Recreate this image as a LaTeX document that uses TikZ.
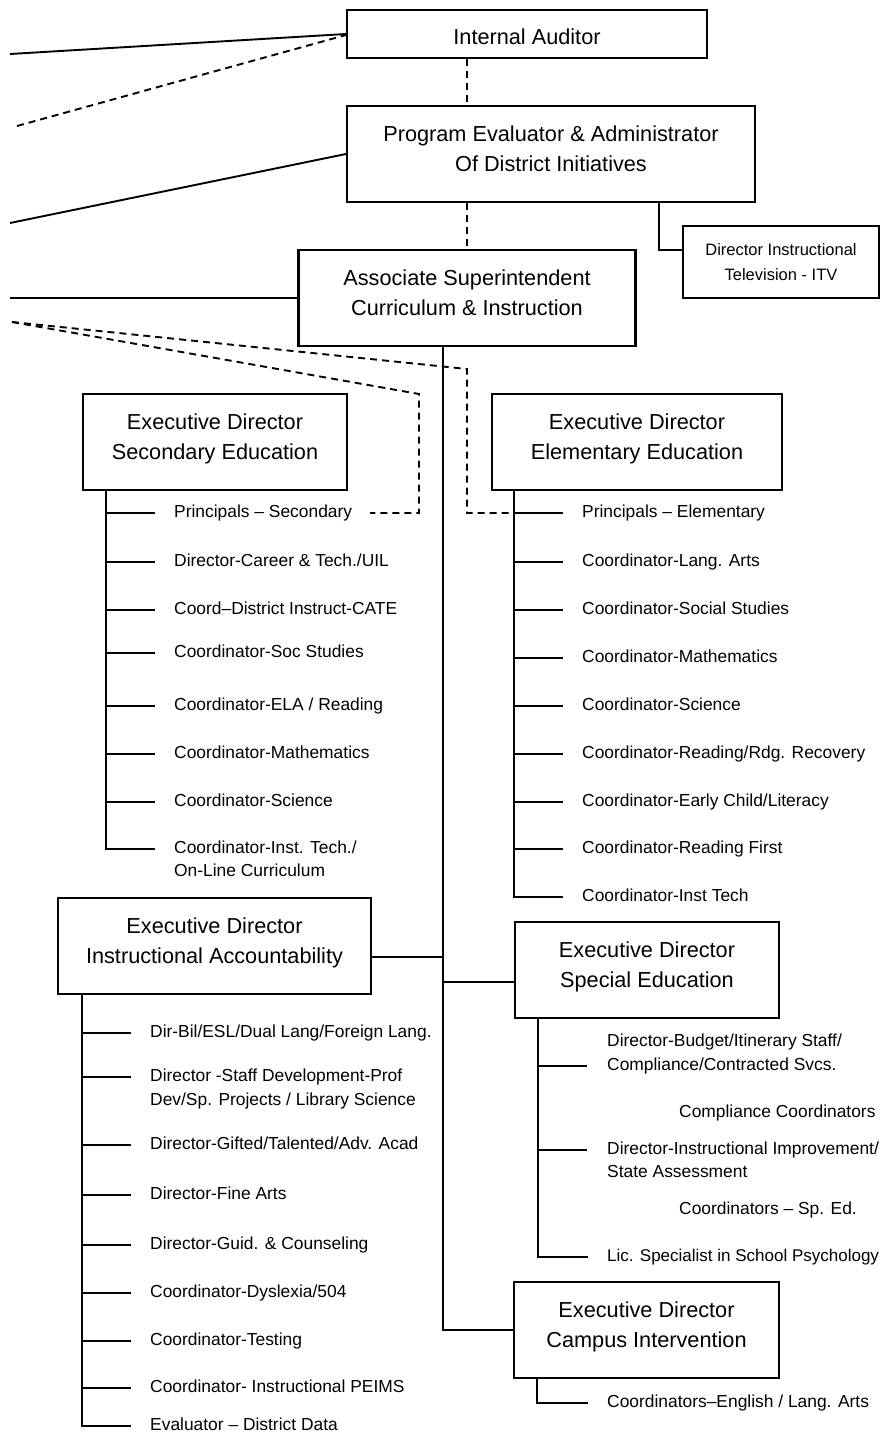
\documentclass[tikz,border=0pt]{standalone}
\usepackage{fontspec}
\setmainfont{Liberation Sans}
\usepackage{tikz}
\usetikzlibrary{calc}
\usetikzlibrary{positioning}

\newcommand{\lowstrut}{\rule[-10pt]{0pt}{10pt}}

\begin{document}
\begin{tikzpicture}[x=1pt, y=-1pt,
	box/.style={draw, line width=2.1pt, align=center, inner sep=0pt, font=\fontsize{21.7}{30}\selectfont},
	item/.style={anchor=west, inner sep=0pt, font=\fontsize{17.4}{23.5}\selectfont, text height=12.6pt, text depth=3.7pt},
	item2/.style={anchor=west, inner sep=0pt, align=left, font=\fontsize{17.4}{23.5}\selectfont},
	link/.style={line width=1.9pt},
	dline/.style={line width=1.9pt, dash pattern=on 7pt off 5pt}]
				\useasboundingbox (0,0) rectangle (882,1437);
				
				\node[box, minimum width=360pt, minimum height=48pt] (IA) at (527,34) {\rule{0pt}{21.6pt}Internal Auditor};
				\node[box, minimum width=408pt, minimum height=96pt] (PE) at (551,154) {Program Evaluator \& Administrator\\Of District Initiatives\lowstrut};
				\node[box, minimum width=196pt, minimum height=72pt, font=\fontsize{16.5}{25}\selectfont] (ITV) at (781,262) {Director Instructional\\Television - ITV};
				\node[box, minimum width=337pt, minimum height=96pt] (AS) at (467,298) {Associate Superintendent\\Curriculum \& Instruction\lowstrut};
				\node[box, minimum width=264pt, minimum height=96pt] (SE) at (215,442) {Executive Director\\Secondary Education\lowstrut};
				\node[box, minimum width=290pt, minimum height=96pt] (EE) at (637,442) {Executive Director\\Elementary Education\lowstrut};
				\node[box, minimum width=313pt, minimum height=96pt] (AC) at (214.5,946) {Executive Director\\Instructional Accountability\lowstrut};
				\node[box, minimum width=264pt, minimum height=96pt] (SP) at (647,970) {Executive Director\\Special Education\lowstrut};
				\node[box, minimum width=265pt, minimum height=96pt] (CI) at (646.5,1330) {Executive Director\\Campus Intervention\lowstrut};
				
				\node[item] (s1) at (174,513) {Principals – Secondary};
				\node[item] (s2) at (174,562) {Director-Career \& Tech./UIL};
				\node[item] (s3) at (174,610) {Coord–District Instruct-CATE};
				\node[item] (s4) at (174,653) {Coordinator-Soc Studies};
				\node[item] (s5) at (174,706) {Coordinator-ELA / Reading};
				\node[item] (s6) at (174,754) {Coordinator-Mathematics};
				\node[item] (s7) at (174,802) {Coordinator-Science};
				\node[item2] (s8) at (174,859) {Coordinator-Inst. Tech./\\On-Line Curriculum};
				
				\node[item] (e1) at (582,513) {Principals – Elementary};
				\node[item] (e2) at (582,562) {Coordinator-Lang. Arts};
				\node[item] (e3) at (582,610) {Coordinator-Social Studies};
				\node[item] (e4) at (582,658) {Coordinator-Mathematics};
				\node[item] (e5) at (582,706) {Coordinator-Science};
				\node[item] (e6) at (582,754) {Coordinator-Reading/Rdg. Recovery};
				\node[item] (e7) at (582,802) {Coordinator-Early Child/Literacy};
				\node[item] (e8) at (582,849) {Coordinator-Reading First};
				\node[item] (e9) at (582,897) {Coordinator-Inst Tech};
				
				\node[item] (a1) at (150,1033) {Dir-Bil/ESL/Dual Lang/Foreign Lang.};
				\node[item2] (a2) at (150,1089) {Director -Staff Development-Prof\\Dev/Sp. Projects / Library Science};
				\node[item] (a3) at (150,1145) {Director-Gifted/Talented/Adv. Acad};
				\node[item] (a4) at (150,1195) {Director-Fine Arts};
				\node[item] (a5) at (150,1245) {Director-Guid. \& Counseling};
				\node[item] (a6) at (150,1293) {Coordinator-Dyslexia/504};
				\node[item] (a7) at (150,1341) {Coordinator-Testing};
				\node[item] (a8) at (150,1388) {Coordinator- Instructional PEIMS};
				\node[item] (a9) at (150,1426) {Evaluator – District Data};
				
				\node[item2] (p1) at (607,1054) {Director-Budget/Itinerary Staff/\\Compliance/Contracted Svcs.};
				\node[item] (q1) at (679,1113) {Compliance Coordinators};
				\node[item2] (p2) at (607,1160) {Director-Instructional Improvement/\\State Assessment};
				\node[item] (q2) at (679,1210) {Coordinators – Sp. Ed.};
				\node[item, font=\fontsize{17}{23.5}\selectfont] (p3) at (607,1257) {Lic. Specialist in School Psychology};
				
				\node[item] (c1) at (607,1403) {Coordinators–English / Lang. Arts};
				
				\coordinate (L1) at (10,54);
				\coordinate (L2) at (17,126);
				\coordinate (L3) at (10,223);
				\coordinate (L4) at (10,298);
				\coordinate (L5) at (12,322);
				\coordinate (k1) at (467,369);
				\coordinate (k2) at (419,394);
				\coordinate (s8b) at (155,849);
				\coordinate (a2b) at (131,1077);
				\coordinate (p1b) at (587,1066);
				\coordinate (p2b) at (587,1150);
				
				\def\gap{19pt}
				\def\arm{48pt}
				
				\draw[link] (L1) -- (IA.west);
				\draw[dline] (L2) -- ([yshift=-1pt]IA.west);
				\draw[link] (L3) -- (PE.west);
				\draw[link] (L4) -- (AS.west);
				\draw[dline] (L5) -- (k1) |- ([xshift=-67pt]e1.west);
				\draw[dline] (L5) -- (k2) |- ([xshift=196pt]s1.west);
				
				\draw[dline] (IA.south -| AS.north) -- (PE.north -| AS.north);
				\draw[dline] (PE.south -| AS.north) -- (AS.north);
				\draw[link] ([xshift=108pt]PE.south) |- ([yshift=12pt]ITV.west);
				
				\draw[link] ([xshift=-24pt]AS.south) |- (CI.west);
				\draw[link] ([yshift=-11pt]AC.east) -- ++(72pt,0);
				\draw[link] ([yshift=-12pt]SP.west) -- ++(-72pt,0);
				
				\draw[link] ([xshift=24pt]SE.south west) |- (s8b);
				\draw[link] ([xshift=-\gap]s1.west) -- ++(-\arm,0);
				\draw[link] ([xshift=-\gap]s2.west) -- ++(-\arm,0);
				\draw[link] ([xshift=-\gap]s3.west) -- ++(-\arm,0);
				\draw[link] ([xshift=-\gap]s4.west) -- ++(-\arm,0);
				\draw[link] ([xshift=-\gap]s5.west) -- ++(-\arm,0);
				\draw[link] ([xshift=-\gap]s6.west) -- ++(-\arm,0);
				\draw[link] ([xshift=-\gap]s7.west) -- ++(-\arm,0);
				
				\draw[link] ([xshift=23pt]EE.south west) |- ([xshift=-\gap]e9.west);
				\draw[link] ([xshift=-\gap]e1.west) -- ++(-\arm,0);
				\draw[link] ([xshift=-\gap]e2.west) -- ++(-\arm,0);
				\draw[link] ([xshift=-\gap]e3.west) -- ++(-\arm,0);
				\draw[link] ([xshift=-\gap]e4.west) -- ++(-\arm,0);
				\draw[link] ([xshift=-\gap]e5.west) -- ++(-\arm,0);
				\draw[link] ([xshift=-\gap]e6.west) -- ++(-\arm,0);
				\draw[link] ([xshift=-\gap]e7.west) -- ++(-\arm,0);
				\draw[link] ([xshift=-\gap]e8.west) -- ++(-\arm,0);
				
				\draw[link] ([xshift=25pt]AC.south west) |- ([xshift=-\gap]a9.west);
				\draw[link] ([xshift=-\gap]a1.west) -- ++(-\arm,0);
				\draw[link] (a2b) -- ++(-\arm,0);
				\draw[link] ([xshift=-\gap]a3.west) -- ++(-\arm,0);
				\draw[link] ([xshift=-\gap]a4.west) -- ++(-\arm,0);
				\draw[link] ([xshift=-\gap]a5.west) -- ++(-\arm,0);
				\draw[link] ([xshift=-\gap]a6.west) -- ++(-\arm,0);
				\draw[link] ([xshift=-\gap]a7.west) -- ++(-\arm,0);
				\draw[link] ([xshift=-\gap]a8.west) -- ++(-\arm,0);
				
				\draw[link] ([xshift=24pt]SP.south west) |- ([xshift=-\gap]p3.west);
				\draw[link] (p1b) -- ++(-\arm,0);
				\draw[link] (p2b) -- ++(-\arm,0);
				
				\draw[link] ([xshift=24pt]CI.south west) |- ([xshift=-\gap]c1.west);
			\end{tikzpicture}
\end{document}
